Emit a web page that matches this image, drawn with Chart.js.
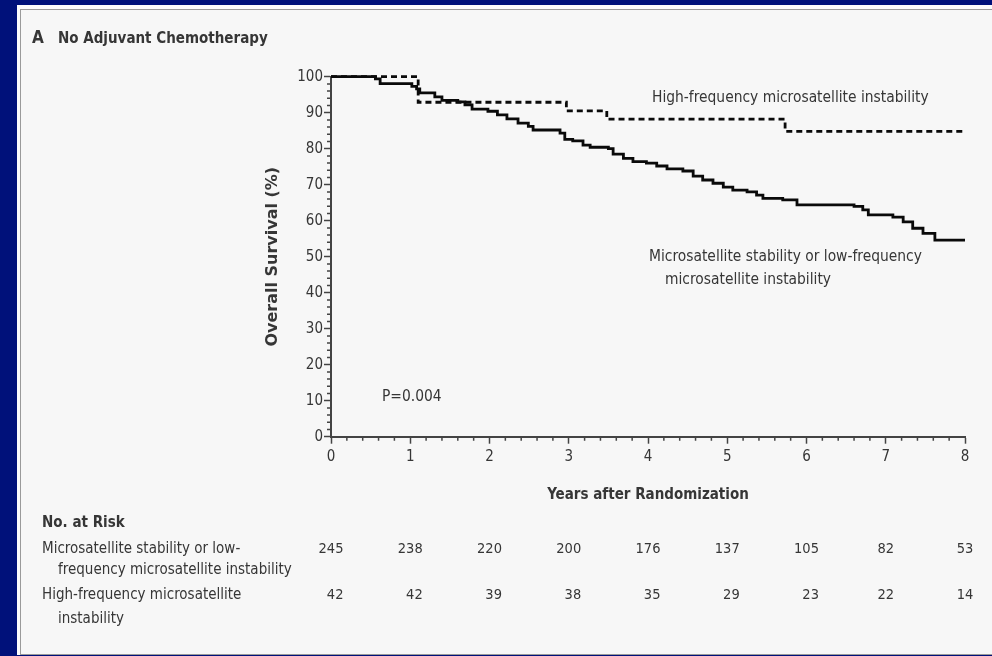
<!DOCTYPE html>
<html>
<head>
<meta charset="utf-8">
<title>No Adjuvant Chemotherapy</title>
<script src="https://cdn.jsdelivr.net/npm/chart.js@4.4.1/dist/chart.umd.min.js"></script>
<style>
  body { margin: 0; width: 992px; height: 656px; background: #00117a; overflow: hidden; position: relative; }
  #panel { position: absolute; left: 17px; top: 5px; width: 975px; height: 650px; background: #fcfcfc; }
  #frame { position: absolute; left: 20px; top: 9px; width: 980px; height: 644px; border: 1px solid #9a9a9a; background: #f7f7f7; }
  canvas { position: absolute; left: 0; top: 0; }
</style>
</head>
<body>
<div id="panel"></div>
<div id="frame"></div>
<canvas id="km" width="992" height="656"></canvas>
<script>
// Courbes (années, survie %)
const mssTimes    = [0, 0.56, 0.62, 1.02, 1.08, 1.12, 1.31, 1.40, 1.60, 1.69, 1.78, 1.98, 2.10, 2.22, 2.36, 2.49, 2.55, 2.89, 2.95, 3.05, 3.18, 3.27, 3.50, 3.56, 3.69, 3.81, 3.98, 4.11, 4.24, 4.44, 4.57, 4.69, 4.82, 4.95, 5.07, 5.25, 5.37, 5.45, 5.70, 5.88, 6.60, 6.71, 6.78, 7.09, 7.22, 7.34, 7.47, 7.62, 8.0];
const mssSurvival = [100, 99.4, 98.1, 97.3, 96.6, 95.5, 94.4, 93.4, 93.0, 92.2, 91.0, 90.4, 89.4, 88.3, 87.1, 86.2, 85.2, 84.3, 82.6, 82.2, 81.0, 80.4, 80.0, 78.5, 77.3, 76.4, 76.0, 75.2, 74.4, 73.8, 72.4, 71.3, 70.4, 69.3, 68.5, 68.0, 67.1, 66.2, 65.8, 64.4, 64.0, 63.0, 61.6, 61.0, 59.7, 57.9, 56.5, 54.6, 54.6];

const msiTimes    = [0, 1.10, 2.97, 3.48, 5.73, 8.0];
const msiSurvival = [100, 92.9, 90.5, 88.2, 84.8, 84.8];

// Nombre de patients à risque
const riskYears = [0, 1, 2, 3, 4, 5, 6, 7, 8];
const riskMss = [245, 238, 220, 200, 176, 137, 105, 82, 53];
const riskMsi = [42, 42, 39, 38, 35, 29, 23, 22, 14];

const condensed = '"DejaVu Sans Condensed", "DejaVu Sans", sans-serif';
const wide = '"DejaVu Sans", sans-serif';
const inkColor = '#363636';
const axisColor = '#444';

function toPoints(times, values) {
    return times.map((t, i) => ({ x: t, y: values[i] }));
}

// Petites graduations, textes et tableau des effectifs
const decorations = {
    id: 'decorations',
    afterDraw(chart) {
        const ctx = chart.ctx;
        const xs = chart.scales.x;
        const ys = chart.scales.y;
        ctx.save();

        ctx.strokeStyle = axisColor;
        ctx.lineWidth = 1.5;
        ctx.beginPath();
        for (let i = 1; i < 40; i++) {
            if (i % 5 === 0) continue;
            const px = xs.getPixelForValue(i * 0.2);
            ctx.moveTo(px, xs.top);
            ctx.lineTo(px, xs.top + 4);
        }
        for (let i = 1; i < 50; i++) {
            if (i % 5 === 0) continue;
            const py = ys.getPixelForValue(i * 2);
            ctx.moveTo(ys.right, py);
            ctx.lineTo(ys.right - 4, py);
        }
        ctx.stroke();

        ctx.fillStyle = inkColor;
        ctx.textBaseline = 'alphabetic';
        ctx.textAlign = 'left';

        ctx.font = 'bold 17px ' + condensed;
        ctx.fillText('A', 32, 43);
        ctx.font = 'bold 15px ' + condensed;
        ctx.fillText('No Adjuvant Chemotherapy', 58, 43);

        ctx.font = '15.4px ' + condensed;
        ctx.fillText('High-frequency microsatellite instability', 652, 102);
        ctx.fillText('Microsatellite stability or low-frequency', 649, 261);
        ctx.fillText('microsatellite instability', 665, 284);
        ctx.fillText('P=0.004', 382, 401);

        // titre de l'axe Y
        ctx.save();
        ctx.translate(277, (ys.top + ys.bottom) / 2);
        ctx.rotate(-Math.PI / 2);
        ctx.textAlign = 'center';
        ctx.font = 'bold 16px ' + wide;
        ctx.fillText('Overall Survival (%)', 0, 0);
        ctx.restore();

        ctx.textAlign = 'center';
        ctx.font = 'bold 15px ' + condensed;
        ctx.fillText('Years after Randomization', (xs.left + xs.right) / 2, 499);

        ctx.textAlign = 'left';
        ctx.fillText('No. at Risk', 42, 527);
        ctx.font = '15px ' + condensed;
        ctx.fillText('Microsatellite stability or low-', 42, 553);
        ctx.fillText('frequency microsatellite instability', 58, 574);
        ctx.fillText('High-frequency microsatellite', 42, 599);
        ctx.fillText('instability', 58, 623);

        ctx.font = '14.5px ' + condensed;
        ctx.textAlign = 'right';
        riskYears.forEach((yr, i) => {
            const cx = xs.getPixelForValue(yr);
            const top = String(riskMss[i]);
            const right = cx + ctx.measureText(top).width / 2;
            ctx.fillText(top, right, 553);
            ctx.fillText(String(riskMsi[i]), right, 599);
        });

        ctx.restore();
    }
};

const ctx = document.getElementById('km').getContext('2d');

const kmChart = new Chart(ctx, {
    type: 'line',
    data: {
        datasets: [{
            label: 'Microsatellite stability or low-frequency microsatellite instability',
            data: toPoints(mssTimes, mssSurvival),
            borderColor: '#0a0a0a',
            borderWidth: 2.8,
            stepped: true,
            pointRadius: 0,
            fill: false,
            clip: false
        },
        {
            label: 'High-frequency microsatellite instability',
            data: toPoints(msiTimes, msiSurvival),
            borderColor: '#0a0a0a',
            borderWidth: 2.8,
            borderDash: [6, 4],
            stepped: true,
            pointRadius: 0,
            fill: false,
            clip: false
        }]
    },
    options: {
        responsive: false,
        animation: false,
        devicePixelRatio: 1,
        layout: { padding: { left: 0, top: 76.7, right: 27, bottom: 0 } },
        plugins: {
            legend: { display: false },
            tooltip: { enabled: false }
        },
        scales: {
            x: {
                type: 'linear',
                min: 0,
                max: 8,
                afterFit: (s) => { s.height = 656 - 436.7; },
                ticks: {
                    stepSize: 1,
                    maxRotation: 0,
                    padding: 4,
                    color: inkColor,
                    font: { family: condensed, size: 15 }
                },
                grid: { drawOnChartArea: false, tickLength: 7, tickColor: axisColor, tickWidth: 1.5 },
                border: { color: axisColor, width: 2 }
            },
            y: {
                min: 0,
                max: 100,
                afterFit: (s) => { s.width = 331; },
                ticks: {
                    stepSize: 10,
                    padding: 1,
                    color: inkColor,
                    font: { family: condensed, size: 15 }
                },
                grid: { drawOnChartArea: false, tickLength: 7, tickColor: axisColor, tickWidth: 1.5 },
                border: { color: axisColor, width: 2 }
            }
        }
    },
    plugins: [decorations]
});
</script>
</body>
</html>
